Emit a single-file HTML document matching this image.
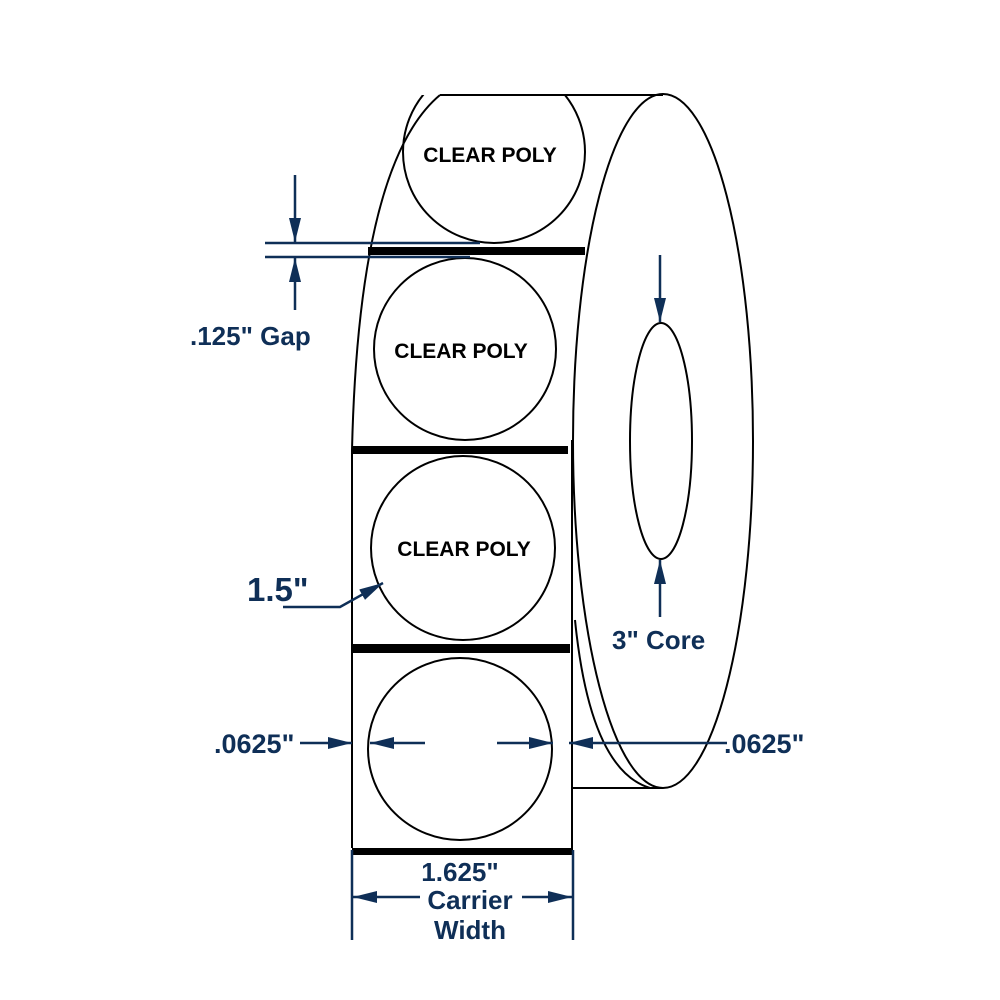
<!DOCTYPE html>
<html><head><style>body{margin:0;background:#fff}svg{display:block}</style></head><body>
<svg width="1000" height="1000" viewBox="0 0 1000 1000" xmlns="http://www.w3.org/2000/svg">
<defs>
<marker id="a2" viewBox="0 0 10 10" refX="10" refY="5" markerWidth="24" markerHeight="12" markerUnits="userSpaceOnUse" orient="auto" preserveAspectRatio="none"><path d="M0,0 L10,5 L0,10z" fill="#0f2f57"/></marker>
<clipPath id="ct"><rect x="0" y="95" width="1000" height="900"/></clipPath>
</defs>
<g fill="none" stroke="#000" stroke-width="2">
<line x1="440" y1="95" x2="663" y2="95"/>
<ellipse cx="663" cy="441" rx="90" ry="347"/>
<path d="M440,95 C380,145 356,280 352,450 L352,848"/>
<line x1="572" y1="440" x2="572" y2="850"/>
<path d="M575,620 Q590,770 650,788"/>
<line x1="572" y1="788" x2="663" y2="788"/>
<ellipse cx="661" cy="441" rx="31" ry="118"/>
<ellipse cx="494" cy="152" rx="91" ry="91" clip-path="url(#ct)"/>
<ellipse cx="465" cy="349" rx="91" ry="91"/>
<ellipse cx="463" cy="548" rx="92" ry="92"/>
<ellipse cx="460" cy="749" rx="92" ry="91"/>
</g>
<g fill="#000">
<rect x="368" y="247" width="217" height="8"/>
<rect x="352" y="446" width="216" height="8"/>
<rect x="352" y="644" width="218" height="9"/>
<rect x="352" y="848" width="220" height="7"/>
</g>
<g font-family="Liberation Sans, sans-serif" font-weight="bold" font-size="21" fill="#000" text-anchor="middle">
<text x="490" y="162">CLEAR POLY</text>
<text x="461" y="358">CLEAR POLY</text>
<text x="464" y="556">CLEAR POLY</text>
</g>
<g stroke="#0f2f57" stroke-width="2.5" fill="none">
<line x1="265" y1="243" x2="480" y2="243"/>
<line x1="265" y1="257" x2="470" y2="257"/>
<line x1="295" y1="175" x2="295" y2="242" marker-end="url(#a2)"/>
<line x1="295" y1="310" x2="295" y2="258" marker-end="url(#a2)"/>
<line x1="660" y1="255" x2="660" y2="322" marker-end="url(#a2)"/>
<line x1="660" y1="617" x2="660" y2="560" marker-end="url(#a2)"/>
<polyline points="283,607 340,607 383,583" marker-end="url(#a2)"/>
<line x1="300" y1="743" x2="352" y2="743" marker-end="url(#a2)"/>
<line x1="425" y1="743" x2="370" y2="743" marker-end="url(#a2)"/>
<line x1="497" y1="743" x2="553" y2="743" marker-end="url(#a2)"/>
<line x1="727" y1="743" x2="569" y2="743" marker-end="url(#a2)"/>
<line x1="352" y1="850" x2="352" y2="940"/>
<line x1="573" y1="850" x2="573" y2="940"/>
<line x1="420" y1="897" x2="353" y2="897" marker-end="url(#a2)"/>
<line x1="522" y1="897" x2="572" y2="897" marker-end="url(#a2)"/>
</g>
<g font-family="Liberation Sans, sans-serif" font-weight="bold" fill="#0f2f57" font-size="26">
<text x="190" y="345">.125" Gap</text>
<text x="612" y="649">3" Core</text>
<text x="247" y="601" font-size="33">1.5"</text>
<text x="214" y="753" font-size="27">.0625"</text>
<text x="724" y="753" font-size="27">.0625"</text>
<text x="460" y="881" text-anchor="middle">1.625"</text>
<text x="470" y="909" text-anchor="middle">Carrier</text>
<text x="470" y="939" text-anchor="middle">Width</text>
</g>
</svg>
</body></html>
